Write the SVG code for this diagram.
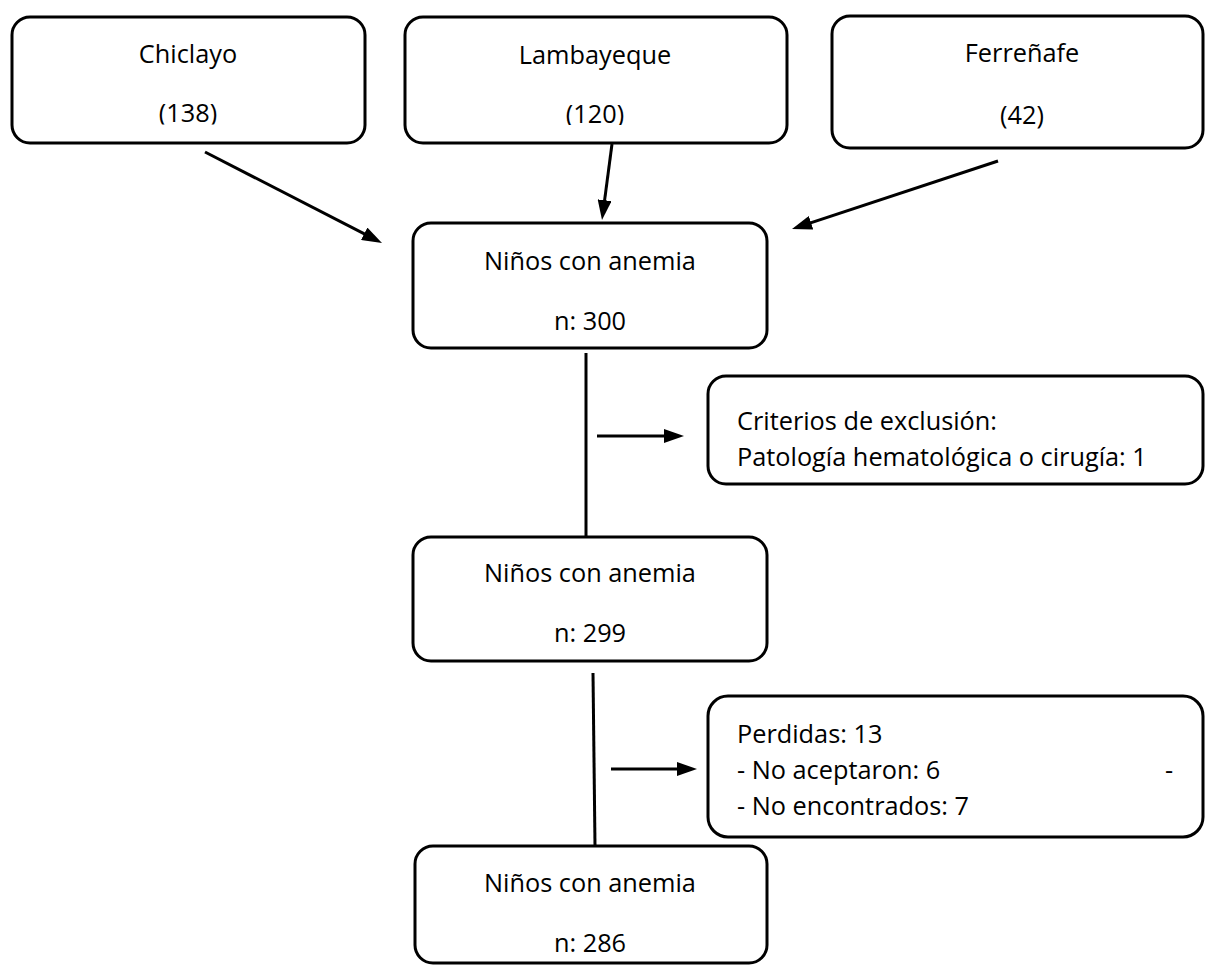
<svg xmlns="http://www.w3.org/2000/svg" width="1205" height="965" viewBox="0 0 1205 965">
<style>
.box{fill:#fff;stroke:#000;stroke-width:3}
.t{font-family:"Open Sans","Liberation Sans",sans-serif;font-size:25.3px;fill:#000}
.c{text-anchor:middle}
.ln{stroke:#000;stroke-width:3;fill:none}
</style>
<defs>
<marker id="ah" markerUnits="userSpaceOnUse" markerWidth="20" markerHeight="14" refX="10" refY="7" orient="auto" viewBox="0 0 20 14">
<path d="M0,0 L20,7 L0,14 z" fill="#000"/>
</marker>
<clipPath id="clipA"><rect x="0" y="0" width="400" height="124.5"/></clipPath>
<clipPath id="clipB"><rect x="400" y="0" width="400" height="125"/></clipPath>
</defs>
<rect width="1205" height="965" fill="#fff"/>
<g id="chiclayo">
<rect class="box" x="12" y="17" width="353" height="126" rx="18"/>
<text class="t c" x="188" y="63">Chiclayo</text>
<text class="t c" x="188" y="122" clip-path="url(#clipA)">(138)</text>
</g>
<g id="lambayeque">
<rect class="box" x="405" y="17" width="382" height="126" rx="18"/>
<text class="t c" x="595" y="64">Lambayeque</text>
<text class="t c" x="595" y="123" clip-path="url(#clipB)">(120)</text>
</g>
<g id="ferrenafe">
<rect class="box" x="832" y="16" width="371" height="132" rx="18"/>
<text class="t c" x="1022" y="62">Ferreñafe</text>
<text class="t c" x="1022" y="124">(42)</text>
</g>
<g id="ninos300">
<rect class="box" x="413" y="223" width="354" height="125" rx="18"/>
<text class="t c" x="590" y="270">Niños con anemia</text>
<text class="t c" x="590" y="330">n: 300</text>
</g>
<g id="exclusion">
<rect class="box" x="708" y="376" width="495" height="108" rx="18"/>
<text class="t" x="737" y="430">Criterios de exclusión:</text>
<text class="t" x="737" y="466">Patología hematológica o cirugía: 1</text>
</g>
<g id="ninos299">
<rect class="box" x="413" y="537" width="354" height="124" rx="18"/>
<text class="t c" x="590" y="582">Niños con anemia</text>
<text class="t c" x="590" y="642">n: 299</text>
</g>
<g id="perdidas">
<rect class="box" x="708" y="696" width="495" height="141" rx="20"/>
<text class="t" x="737" y="743">Perdidas: 13</text>
<text class="t" x="737" y="779">- No aceptaron: 6</text>
<text class="t" x="1165" y="779">-</text>
<text class="t" x="737" y="815">- No encontrados: 7</text>
</g>
<g id="ninos286">
<rect class="box" x="415" y="846" width="352" height="117" rx="18"/>
<text class="t c" x="590" y="892">Niños con anemia</text>
<text class="t c" x="590" y="952">n: 286</text>
</g>
<g id="connectors">
<line class="ln" x1="205" y1="152" x2="373.1" y2="238.4" marker-end="url(#ah)"/>
<line class="ln" x1="612" y1="144" x2="603.3" y2="210.1" marker-end="url(#ah)"/>
<line class="ln" x1="998" y1="161" x2="801.5" y2="225.9" marker-end="url(#ah)"/>
<line class="ln" x1="586" y1="353" x2="586" y2="537"/>
<line class="ln" x1="597" y1="436" x2="674" y2="436" marker-end="url(#ah)"/>
<line class="ln" x1="593" y1="673" x2="595" y2="846"/>
<line class="ln" x1="611" y1="769" x2="687" y2="769" marker-end="url(#ah)"/>
</g>
</svg>
